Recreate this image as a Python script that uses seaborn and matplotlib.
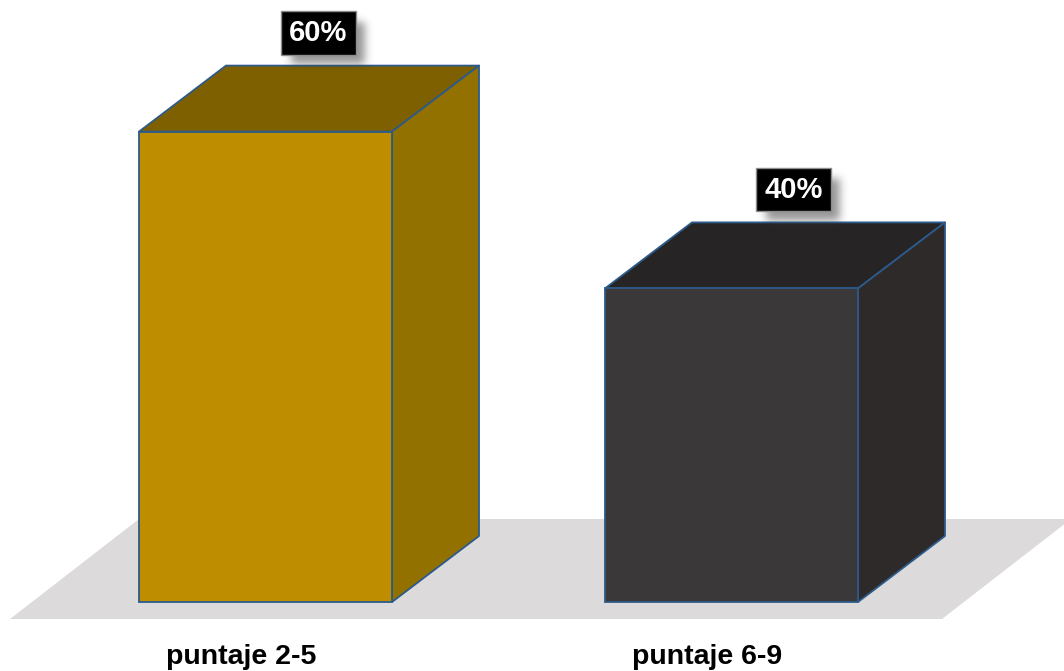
import math
import numpy as np
import pandas as pd
import matplotlib
matplotlib.use("Agg")
import matplotlib.pyplot as plt
from matplotlib.patches import Polygon
import seaborn as sns

# Data
categories = ["puntaje 2-5", "puntaje 6-9"]
values = [60, 40]
value_labels = ["60%", "40%"]

# Face colours for each bar: front, top, right side
front_colors = ["#BE8E00", "#3A3839"]
top_colors = ["#7F6000", "#262425"]
side_colors = ["#937100", "#2E2A2A"]

EDGE = "#2C5A8A"
FLOOR = "#DCDADB"

# Figure geometry (pixels)
W, H, DPI = 1064, 671, 100
PX_X = 466.0      # pixels per category step
PX_Y = 7.84       # pixels per percentage point
X0_PX = 265.5     # pixel x of the first category
Y0_PX = 602.0     # pixel row of the baseline

BAR_W = 253 / PX_X
DX = 87 / PX_X    # depth offset, horizontal
DY = 66 / PX_Y    # depth offset, vertical

sns.set_theme(style="white")
plt.rcParams["font.family"] = ["Liberation Sans", "DejaVu Sans"]

fig = plt.figure(figsize=(W / DPI, H / DPI), dpi=DPI)
ax = fig.add_axes([0, 0, 1, 1])

df = pd.DataFrame({"cat": categories, "val": values})
sns.barplot(data=df, x="cat", y="val", hue="cat", palette=front_colors,
            width=BAR_W, saturation=1, edgecolor=EDGE, linewidth=1.3,
            legend=False, ax=ax, zorder=4)

bars = [p for c in ax.containers for p in c]
bars.sort(key=lambda p: p.get_x())

ax.set_xlim(-X0_PX / PX_X, (W - X0_PX) / PX_X)
ax.set_ylim(-(H - Y0_PX) / PX_Y, Y0_PX / PX_Y)
ax.axis("off")

# Floor plane
fy0 = -17 / PX_Y
fy1 = 83 / PX_Y
fl = (10 - X0_PX) / PX_X
fr = (942 - X0_PX) / PX_X
shift = 129 / PX_X
ax.add_patch(Polygon([(fl, fy0), (fr, fy0), (fr + shift, fy1), (fl + shift, fy1)],
                     closed=True, facecolor=FLOOR, edgecolor="none", zorder=1))

# Top and side faces of each bar
for bar, tc, sc in zip(bars, top_colors, side_colors):
    x0 = bar.get_x()
    x1 = x0 + bar.get_width()
    h = bar.get_height()
    ax.add_patch(Polygon([(x0, h), (x1, h), (x1 + DX, h + DY), (x0 + DX, h + DY)],
                         closed=True, facecolor=tc, edgecolor=EDGE,
                         linewidth=1.3, zorder=3, joinstyle="round"))
    ax.add_patch(Polygon([(x1, 0), (x1 + DX, DY), (x1 + DX, h + DY), (x1, h)],
                         closed=True, facecolor=sc, edgecolor=EDGE,
                         linewidth=1.3, zorder=3, joinstyle="round"))


def erf_profile(coords, a, b, s):
    erf = np.vectorize(math.erf)
    return 0.5 * (erf((coords - a) / s) - erf((coords - b) / s))


# Value labels: black boxes with a soft drop shadow
BOX_W, BOX_H = 74, 42
label_dx = [53, 62]   # horizontal placement above each bar's top face (px)
for i, (v, lab) in enumerate(zip(values, value_labels)):
    cx = i + label_dx[i] / PX_X
    cy = v + 12.6
    sx0 = cx + (-BOX_W / 2 + 9) / PX_X
    sx1 = cx + (BOX_W / 2 + 9) / PX_X
    sy0 = cy + (-BOX_H / 2 - 10) / PX_Y
    sy1 = cy + (BOX_H / 2 - 10) / PX_Y
    pad = 20
    gx = np.linspace(-BOX_W / 2 - pad, BOX_W / 2 + pad, 160)
    gy = np.linspace(-BOX_H / 2 - pad, BOX_H / 2 + pad, 120)
    ax_prof = erf_profile(gx, -BOX_W / 2, BOX_W / 2, 6.0)
    ay_prof = erf_profile(gy, -BOX_H / 2, BOX_H / 2, 6.0)
    alpha = np.outer(ay_prof, ax_prof) * 0.55
    img = np.zeros((len(gy), len(gx), 4))
    img[..., :3] = 0.25
    img[..., 3] = alpha
    ax.imshow(img, extent=(sx0 - pad / PX_X, sx1 + pad / PX_X,
                           sy0 - pad / PX_Y, sy1 + pad / PX_Y),
              origin="lower", aspect="auto", zorder=5, interpolation="bilinear")
    ax.text(cx, cy, lab, ha="center", va="center", color="white",
            fontsize=21, fontweight="bold", zorder=7,
            bbox=dict(boxstyle="square,pad=0.27", facecolor="black",
                      edgecolor="#8C8C8C", linewidth=1.0))

# Category labels under the floor
for i, cat in enumerate(categories):
    ax.text(i - 0.052, -55 / PX_Y, cat, ha="center", va="center",
            fontsize=20.5, fontweight="bold", color="black", zorder=6)

ax.set_xlim(-X0_PX / PX_X, (W - X0_PX) / PX_X)
ax.set_ylim(-(H - Y0_PX) / PX_Y, Y0_PX / PX_Y)

fig.savefig("out.png", dpi=DPI)
